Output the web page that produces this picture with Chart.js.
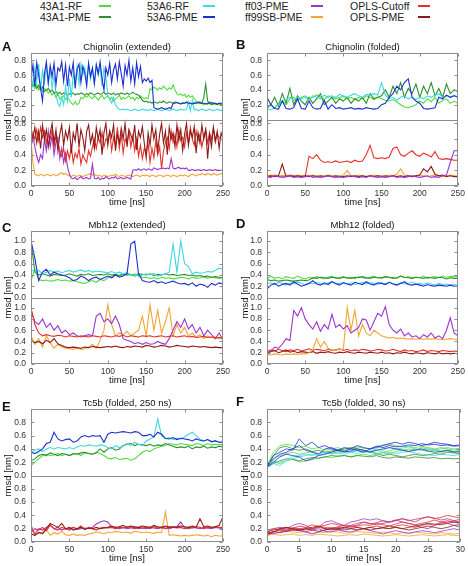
<!DOCTYPE html>
<html>
<head>
<meta charset="utf-8">
<script src="https://cdn.jsdelivr.net/npm/chart.js@4.4.1/dist/chart.umd.min.js"></script>
<style>
  html, body { margin: 0; padding: 0; background: #fff; }
  #fig { position: relative; width: 468px; height: 566px; overflow: hidden; font-family: "Liberation Sans", Arial, sans-serif; }
  #fig canvas { position: absolute; }
  .lg { position: absolute; font-size: 10.5px; line-height: 11px; color: #222; white-space: nowrap; }
  .sw { position: absolute; height: 2px; }
</style>
</head>
<body>
<div id="fig"></div>
<script>
// force fields (legend order) and their colours
const seriesNames = ['43A1-RF', '43A1-PME', '53A6-RF', '53A6-PME', 'ff03-PME', 'ff99SB-PME', 'OPLS-Cutoff', 'OPLS-PME'];
const seriesColors = ['#4fdc3f', '#2f8f2f', '#3fd8e0', '#1c2fd0', '#9a35d0', '#f2a533', '#e6302a', '#8e1a17'];

// x ticks
const ticks250 = [0, 50, 100, 150, 200, 250];
const ticks30 = [0, 5, 10, 15, 20, 25, 30];

// ---------- A : Chignolin (extended), 0-250 ns, 2.5 ns samples ----------
const A_53A6_PME = [.55,.74,.45,.77,.6,.42,.25,.62,.78,.5, .73,.58,.76,.47,.7,.66,.78,.52,.74,.45,
  .71,.6,.77,.42,.68,.75,.5,.72,.63,.45, .76,.58,.7,.48,.74,.62,.78,.55,.4,.7,
  .6,.76,.5,.67,.75,.55,.78,.62,.45,.73, .6,.8,.52,.7,.48,.77,.58,.72,.5,.55,
  .52,.56,.5,.53,.16,.15,.14,.15,.16,.15, .14,.15,.16,.15,.22,.22,.23,.22,.21,.22,
  .22,.23,.22,.22,.21,.22,.22,.23,.22,.22, .22,.21,.22,.22,.23,.22,.22,.21,.22,.22, .22];
const A_53A6_RF = [.62,.45,.7,.52,.75,.4,.66,.5,.72,.48, .68,.42,.6,.35,.22,.18,.3,.2,.45,.25,
  .55,.3,.62,.5,.72,.48,.75,.6,.7,.52, .76,.55,.68,.5,.74,.6,.72,.45,.7,.58,
  .32,.28,.22,.3,.2,.16,.14,.13,.14,.13, .14,.13,.12,.13,.14,.13,.12,.13,.14,.13,
  .13,.12,.14,.13,.12,.13,.14,.13,.12,.13, .14,.13,.12,.13,.14,.13,.12,.13,.14,.13,
  .13,.14,.24,.12,.26,.13,.14,.12,.13,.14, .13,.12,.13,.14,.13,.12,.13,.14,.13,.12, .13];
const A_43A1_RF = [.45,.5,.42,.48,.4,.44,.38,.42,.4,.36, .38,.33,.36,.3,.34,.28,.3,.32,.27,.3,
  .26,.22,.2,.24,.2,.22,.3,.28,.32,.3, .33,.3,.28,.32,.3,.26,.3,.33,.28,.3,
  .32,.27,.3,.25,.28,.3,.33,.27,.3,.28, .3,.32,.28,.3,.26,.3,.28,.32,.3,.28,
  .3,.28,.42,.4,.44,.42,.4,.43,.41,.45, .42,.4,.43,.41,.47,.4,.35,.33,.35,.32,
  .34,.3,.33,.3,.32,.28,.25,.22,.24,.22, .2,.22,.2,.24,.21,.2,.22,.2,.21,.2, .2];
const A_43A1_PME = [.5,.45,.48,.42,.46,.4,.44,.38,.4,.42, .38,.4,.36,.38,.35,.37,.34,.36,.35,.33,
  .35,.34,.36,.33,.35,.34,.36,.35,.33,.35, .34,.36,.35,.33,.35,.36,.34,.35,.37,.34,
  .36,.35,.34,.36,.33,.35,.34,.36,.35,.34, .36,.34,.35,.37,.35,.34,.33,.3,.26,.24,
  .25,.23,.24,.22,.24,.23,.22,.24,.23,.25, .23,.22,.24,.23,.22,.24,.23,.22,.21,.23,
  .22,.24,.23,.22,.21,.23,.22,.24,.23,.22, .3,.48,.25,.22,.2,.22,.21,.2,.22,.21, .2];
const A_OPLS_PME = [.5,.62,.75,.55,.7,.48,.78,.6,.72,.5, .68,.8,.55,.72,.45,.66,.78,.52,.7,.6,
  .75,.42,.68,.58,.8,.5,.72,.62,.45,.7, .78,.55,.66,.48,.75,.6,.72,.4,.68,.8,
  .52,.7,.62,.78,.45,.66,.55,.74,.6,.8, .5,.72,.65,.58,.78,.46,.7,.62,.76,.55,
  .36,.68,.52,.78,.6,.72,.45,.66,.8,.55, .7,.4,.75,.6,.68,.5,.78,.58,.72,.45,
  .66,.8,.52,.7,.62,.76,.42,.68,.55,.78, .6,.72,.35,.66,.5,.75,.58,.7,.48,.68, .6];
const A_OPLS_Cutoff = [.55,.68,.6,.72,.58,.75,.62,.7,.55,.66, .6,.72,.5,.64,.56,.45,.38,.48,.32,.45,
  .35,.5,.3,.42,.36,.48,.28,.4,.34,.3, .45,.38,.5,.6,.48,.62,.55,.68,.5,.6,
  .58,.7,.45,.62,.52,.75,.48,.66,.42,.6, .55,.7,.5,.64,.45,.6,.38,.52,.35,.48,
  .42,.55,.3,.48,.36,.58,.4,.5,.22,.45, .55,.62,.48,.7,.56,.65,.5,.72,.58,.62,
  .5,.68,.55,.75,.6,.52,.7,.58,.66,.5, .62,.72,.55,.68,.6,.74,.56,.66,.62,.6, .58];
const A_ff03_PME = [.55,.65,.5,.38,.3,.4,.35,.6,.45,.7, .5,.65,.4,.55,.62,.35,.48,.3,.42,.25,
  .15,.1,.09,.11,.08,.1,.12,.09,.1,.11, .09,.1,.28,.1,.09,.11,.08,.1,.09,.12,
  .1,.09,.11,.1,.12,.09,.1,.11,.09,.1, .11,.1,.09,.2,.21,.2,.22,.2,.21,.22,
  .2,.22,.21,.2,.23,.22,.21,.22,.22,.23, .22,.23,.22,.35,.23,.22,.23,.24,.22,.23,
  .22,.23,.2,.2,.21,.2,.2,.21,.2,.2, .21,.2,.2,.21,.2,.2,.21,.2,.2,.2, .2];
const A_ff99SB_PME = [.6,.3,.15,.14,.13,.15,.14,.13,.15,.14, .13,.14,.15,.13,.14,.16,.17,.15,.16,.14,
  .13,.12,.14,.13,.12,.14,.13,.12,.13,.14, .15,.16,.14,.15,.13,.14,.13,.12,.14,.13,
  .12,.13,.14,.13,.15,.13,.12,.14,.13,.12, .13,.14,.13,.12,.13,.14,.13,.12,.14,.13,
  .14,.13,.12,.14,.13,.12,.13,.14,.13,.12, .13,.14,.13,.12,.14,.13,.12,.13,.14,.13,
  .14,.13,.12,.14,.15,.14,.13,.15,.14,.16, .15,.14,.16,.15,.14,.16,.15,.14,.15,.16, .15];

// ---------- B : Chignolin (folded), 5 ns samples ----------
const B_53A6_PME = [.3,.2,.15,.14,.25,.15,.14,.16,.28,.15, .14,.25,.16,.14,.15,.26,.14,.2,.15,.16,
  .14,.15,.16,.14,.15,.14,.16,.15,.14,.15, .2,.22,.3,.35,.45,.4,.5,.55,.3,.25,
  .22,.15,.14,.15,.16,.3,.28,.33,.3,.32, .3];
const B_53A6_RF = [.15,.13,.16,.2,.25,.27,.3,.26,.3,.28, .3,.27,.32,.3,.28,.33,.3,.32,.3,.34,
  .32,.3,.33,.35,.32,.3,.34,.33,.35,.33, .5,.33,.28,.3,.26,.3,.32,.28,.3,.27,
  .3,.28,.32,.3,.33,.35,.3,.32,.3,.33, .3];
const B_43A1_RF = [.18,.2,.15,.22,.25,.2,.28,.3,.26,.3, .32,.28,.3,.33,.3,.27,.32,.3,.28,.3,
  .31,.28,.3,.27,.3,.28,.32,.3,.27,.3, .28,.26,.25,.27,.24,.2,.17,.16,.18,.2,
  .25,.22,.28,.24,.3,.22,.26,.28,.22,.25, .22];
const B_43A1_PME = [.15,.2,.3,.18,.35,.22,.42,.2,.32,.25, .2,.3,.22,.28,.35,.2,.25,.3,.22,.28,
  .25,.3,.22,.28,.25,.3,.22,.35,.28,.3, .32,.4,.3,.45,.35,.5,.3,.42,.35,.48,
  .3,.45,.35,.5,.32,.42,.3,.48,.35,.4, .38];
const B_OPLS_Cutoff = [.13,.12,.14,.12,.13,.12,.14,.13,.12,.13, .12,.38,.35,.4,.33,.3,.31,.3,.32,.3,
  .31,.32,.3,.33,.31,.32,.4,.52,.36,.35, .36,.35,.37,.48,.5,.4,.38,.42,.45,.4,
  .38,.42,.4,.37,.44,.35,.34,.35,.34,.33, .33];
const B_OPLS_PME = [.12,.13,.12,.13,.28,.12,.13,.12,.13,.12, .13,.12,.13,.12,.13,.12,.13,.12,.13,.12,
  .12,.13,.12,.13,.12,.13,.12,.13,.12,.13, .12,.13,.12,.13,.12,.13,.12,.13,.12,.13,
  .14,.22,.18,.25,.15,.13,.14,.12,.13,.12, .12];
const B_ff03_PME = [.12,.11,.13,.12,.11,.12,.13,.11,.12,.11, .12,.13,.11,.12,.11,.12,.13,.12,.11,.12,
  .11,.12,.13,.12,.11,.12,.11,.13,.12,.11, .12,.11,.12,.13,.11,.12,.11,.12,.13,.12,
  .11,.12,.13,.11,.12,.11,.13,.14,.3,.45, .45];
const B_ff99SB_PME = [.13,.14,.13,.12,.13,.14,.13,.12,.14,.13, .12,.13,.14,.13,.12,.13,.14,.13,.12,.13,
  .14,.2,.13,.12,.14,.13,.12,.13,.14,.13, .13,.12,.14,.13,.15,.22,.14,.13,.12,.13,
  .14,.13,.12,.13,.14,.13,.12,.13,.14,.13, .13];

// ---------- C : Mbh12 (extended) ----------
const C_53A6_PME = [1.0,.7,.3,.45,.5,.4,.45,.42,.4,.38, .35,.3,.32,.38,.35,.3,.34,.36,.32,.35,
  .38,.35,.4,.36,.38,.42,.95,1.0,.42,.3, .28,.27,.3,.26,.28,.25,.27,.29,.26,.24,
  .25,.22,.26,.2,.24,.22,.18,.25,.22,.26, .24];
const C_53A6_RF = [.5,.45,.48,.42,.45,.48,.45,.47,.44,.46, .48,.45,.47,.49,.46,.48,.45,.47,.46,.45,
  .44,.46,.43,.45,.42,.44,.4,.42,.38,.4, .42,.4,.43,.38,.4,.42,.45,.95,.45,1.0,
  .6,.55,.42,.45,.43,.44,.46,.45,.48,.52, .5];
const C_43A1_RF = [.3,.5,.32,.3,.31,.29,.3,.32,.3,.31, .29,.3,.28,.26,.25,.28,.3,.27,.32,.3,
  .35,.38,.4,.38,.4,.42,.4,.38,.4,.35, .36,.34,.35,.33,.36,.34,.35,.33,.34,.36,
  .35,.33,.36,.34,.35,.37,.34,.36,.35,.34, .35];
const C_43A1_PME = [1.0,.45,.4,.42,.4,.38,.41,.4,.39,.4, .42,.4,.38,.41,.4,.42,.39,.4,.41,.4,
  .42,.4,.41,.39,.42,.4,.41,.4,.42,.41, .4,.42,.39,.41,.4,.42,.4,.41,.39,.4,
  .41,.39,.4,.38,.39,.37,.38,.36,.37,.36, .35];
const C_OPLS_Cutoff = [1.0,.7,.55,.5,.52,.5,.49,.51,.5,.48, .5,.49,.48,.5,.49,.48,.5,.49,.48,.5,
  .49,.48,.5,.49,.51,.48,.5,.49,.48,.5, .49,.5,.48,.49,.5,.48,.49,.5,.48,.49,
  .5,.48,.49,.47,.48,.49,.47,.48,.46,.47, .47];
const C_OPLS_PME = [.42,.38,.4,.36,.42,.38,.45,.36,.33,.3, .29,.3,.29,.28,.3,.29,.31,.3,.29,.3,
  .31,.3,.32,.3,.29,.31,.3,.32,.31,.3, .33,.32,.3,.31,.33,.32,.3,.31,.33,.32,
  .31,.3,.32,.31,.3,.31,.3,.29,.3,.29, .29];
const C_ff03_PME = [.95,.75,.7,.8,.65,.72,.6,.68,.55,.6, .52,.55,.5,.48,.5,.52,.5,.85,.9,.75,
  .8,.72,.85,.7,.45,.42,.4,.36,.38,.35, .38,.35,.36,.4,.37,.35,.45,.6,.75,.65,
  .8,.62,.7,.55,.65,.5,.6,.52,.45,.55, .42];
const C_ff99SB_PME = [.5,.35,.45,.3,.5,.38,.28,.35,.3,.28, .27,.26,.28,.26,.27,.3,.35,.28,.42,.6,
  1.05,.7,.5,.55,.52,.58,.5,.55,.6,.85, .5,1.05,.6,.95,.55,.75,1.0,.5,.7,.55,
  .65,.5,.55,.48,.52,.45,.5,.47,.48,.45, .45];

// ---------- D : Mbh12 (folded) ----------
const D_43A1_PME = [.32,.3,.31,.29,.3,.31,.3,.29,.3,.31, .3,.31,.35,.34,.36,.35,.34,.36,.35,.34,
  .36,.35,.34,.36,.35,.37,.35,.34,.36,.35, .35,.37,.36,.34,.35,.38,.36,.35,.34,.36,
  .35,.34,.36,.35,.34,.36,.35,.33,.35,.34, .34];
const D_43A1_RF = [.33,.38,.34,.36,.33,.37,.35,.34,.38,.35, .33,.36,.34,.37,.35,.33,.36,.38,.34,.35,
  .37,.34,.36,.33,.37,.35,.34,.36,.38,.35, .34,.37,.35,.36,.34,.38,.35,.37,.34,.36,
  .35,.38,.34,.36,.37,.35,.38,.36,.37,.38, .37];
const D_53A6_RF = [.24,.26,.23,.27,.25,.22,.26,.24,.28,.25, .23,.26,.24,.27,.25,.23,.26,.28,.24,.25,
  .27,.24,.26,.23,.25,.27,.24,.26,.25,.23, .26,.24,.27,.25,.23,.26,.24,.25,.27,.24,
  .25,.23,.26,.24,.22,.25,.23,.24,.22,.23, .22];
const D_53A6_PME = [.15,.22,.25,.2,.23,.25,.22,.28,.24,.2, .22,.25,.3,.24,.22,.26,.23,.28,.25,.22,
  .26,.24,.22,.27,.25,.23,.28,.24,.22,.26, .25,.23,.27,.24,.22,.25,.28,.23,.22,.24,
  .22,.2,.23,.21,.2,.22,.21,.2,.22,.2, .2];
const D_ff03_PME = [.2,.22,.3,.28,.35,.45,.42,.95,.85,1.0, .8,.7,.62,.75,.58,.7,.62,.88,.65,.7,
  .62,.68,.55,.6,.65,.8,.78,.6,.75,.9, .85,1.02,.7,.6,.55,.62,.5,.55,.48,.5,
  .45,.52,.48,.55,.46,.5,.45,.6,.82,.55, .5];
const D_ff99SB_PME = [.17,.16,.18,.17,.16,.18,.17,.18,.17,.18, .18,.2,.25,.45,.3,.4,.28,.25,.24,.26,
  .26,1.0,.6,.95,.5,.7,.55,.5,.6,.55, .5,.48,.46,.47,.45,.46,.45,.44,.45,.44,
  .45,.44,.45,.44,.45,.44,.43,.44,.45,.44, .44];
const D_OPLS_Cutoff = [.22,.25,.23,.26,.24,.22,.25,.24,.26,.23, .25,.27,.24,.26,.25,.23,.26,.24,.25,.27,
  .24,.26,.23,.25,.24,.26,.25,.23,.24,.26, .25,.23,.24,.26,.24,.22,.25,.23,.24,.22,
  .23,.25,.22,.24,.23,.22,.24,.23,.22,.23, .22];
const D_OPLS_PME = [.2,.22,.24,.2,.22,.25,.21,.23,.2,.22, .21,.2,.22,.19,.21,.2,.22,.2,.19,.21,
  .2,.22,.2,.19,.21,.2,.19,.21,.2,.19, .21,.19,.2,.18,.2,.19,.21,.19,.18,.2,
  .19,.18,.2,.19,.18,.2,.18,.19,.18,.19, .18];

// ---------- E : Tc5b (folded, 250 ns) ----------
const E_53A6_PME = [.35,.33,.36,.4,.48,.5,.65,.55,.52,.54, .55,.5,.52,.58,.6,.58,.6,.59,.6,.5,
  .62,.65,.64,.65,.66,.65,.64,.66,.65,.6, .6,.62,.58,.65,.62,.56,.55,.57,.54,.56,
  .55,.54,.52,.55,.53,.52,.54,.51,.52,.5, .5];
const E_53A6_RF = [.35,.38,.4,.36,.4,.42,.4,.42,.41,.4, .42,.4,.43,.45,.44,.46,.45,.44,.46,.45,
  .42,.4,.45,.42,.44,.48,.45,.5,.47,.45, .52,.55,.58,.85,.6,.55,.57,.54,.56,.55,
  .58,.62,.65,.6,.55,.52,.54,.5,.52,.5, .51];
const E_43A1_PME = [.22,.25,.3,.32,.3,.34,.32,.3,.33,.32, .3,.33,.32,.34,.35,.33,.32,.34,.4,.35,
  .4,.42,.38,.4,.45,.47,.48,.45,.47,.46, .45,.47,.44,.46,.45,.48,.46,.44,.42,.43,
  .42,.44,.4,.43,.42,.44,.41,.43,.42,.44, .43];
const E_43A1_RF = [.15,.2,.25,.3,.32,.3,.31,.33,.3,.32, .3,.32,.33,.3,.34,.33,.32,.35,.33,.3,
  .26,.25,.27,.24,.25,.26,.23,.25,.3,.35, .38,.36,.4,.42,.44,.45,.48,.47,.46,.48,
  .47,.46,.45,.48,.47,.45,.48,.46,.47,.46, .47];
const E_OPLS_PME = [.12,.1,.14,.13,.2,.28,.25,.22,.28,.2, .22,.18,.2,.22,.19,.21,.2,.22,.2,.21,
  .22,.24,.22,.23,.25,.22,.24,.23,.22,.24, .23,.22,.25,.23,.22,.24,.22,.23,.22,.24,
  .23,.22,.24,.22,.35,.23,.24,.22,.23,.25, .38];
const E_OPLS_Cutoff = [.15,.2,.18,.22,.17,.25,.2,.18,.22,.2, .18,.22,.2,.24,.19,.22,.2,.18,.21,.22,
  .21,.22,.2,.22,.21,.23,.22,.2,.22,.21, .22,.2,.23,.21,.22,.2,.23,.22,.21,.22,
  .2,.22,.21,.23,.22,.2,.22,.21,.23,.22, .22];
const E_ff03_PME = [.25,.12,.2,.18,.22,.26,.2,.22,.18,.2, .2,.22,.19,.2,.21,.2,.22,.27,.3,.32,
  .3,.22,.21,.2,.22,.2,.21,.22,.2,.21, .2,.22,.21,.2,.22,.21,.2,.22,.23,.3,
  .21,.2,.22,.21,.2,.22,.21,.2,.22,.21, .2];
const E_ff99SB_PME = [.2,.1,.15,.12,.18,.1,.14,.12,.16,.11, .1,.12,.1,.11,.1,.12,.13,.15,.14,.12,
  .15,.14,.16,.15,.14,.15,.13,.16,.15,.14, .15,.14,.13,.15,.14,.45,.1,.11,.1,.09,
  .1,.09,.1,.11,.1,.09,.1,.08,.1,.09, .09];

// ---------- F : Tc5b (folded, 30 ns), several runs per force field, 1 ns samples ----------
const F_53A6_PME = [
  [.12,.3,.35,.4,.38,.55,.45,.5,.42,.45,.4,.38,.42,.4,.45,.42,.4,.44,.42,.45,.43,.44,.46,.45,.48,.46,.47,.45,.46,.44,.45],
  [.15,.25,.32,.35,.4,.45,.38,.35,.32,.4,.42,.38,.36,.4,.38,.35,.4,.42,.45,.48,.5,.47,.5,.48,.45,.47,.5,.48,.47,.45,.46],
  [.13,.2,.28,.32,.3,.28,.22,.25,.3,.32,.35,.38,.35,.37,.4,.38,.35,.38,.4,.42,.4,.38,.36,.38,.4,.37,.35,.36,.38,.35,.36]];
const F_53A6_RF = [
  [.14,.22,.2,.25,.28,.3,.32,.3,.33,.35,.32,.34,.36,.35,.38,.36,.37,.4,.38,.42,.4,.41,.43,.4,.38,.4,.39,.37,.38,.36,.35],
  [.12,.18,.15,.22,.25,.28,.3,.32,.3,.33,.35,.34,.32,.35,.33,.36,.35,.34,.32,.35,.33,.35,.36,.34,.32,.31,.3,.32,.31,.3,.32]];
const F_43A1_RF = [
  [.15,.35,.45,.47,.45,.42,.44,.4,.42,.38,.4,.42,.38,.4,.43,.41,.4,.44,.46,.47,.45,.43,.44,.42,.44,.42,.4,.42,.4,.38,.4],
  [.13,.25,.3,.33,.35,.32,.34,.36,.33,.35,.33,.36,.38,.35,.37,.35,.36,.38,.35,.37,.4,.38,.37,.4,.38,.36,.38,.35,.37,.36,.38],
  [.12,.2,.18,.22,.25,.2,.22,.24,.26,.28,.27,.29,.3,.28,.3,.32,.3,.32,.35,.33,.36,.38,.4,.38,.42,.4,.38,.4,.42,.4,.41]];
const F_43A1_PME = [
  [.12,.18,.22,.25,.24,.22,.25,.27,.26,.28,.3,.29,.3,.28,.3,.29,.28,.3,.27,.26,.28,.27,.26,.28,.27,.26,.27,.25,.26,.25,.26],
  [.14,.3,.42,.44,.4,.38,.4,.36,.38,.35,.37,.38,.4,.42,.4,.38,.35,.33,.3,.32,.3,.28,.3,.32,.3,.31,.33,.32,.35,.34,.33]];
const F_OPLS_Cutoff = [
  [.15,.2,.18,.22,.2,.24,.22,.26,.23,.25,.28,.26,.24,.25,.28,.3,.27,.29,.32,.3,.33,.35,.32,.34,.36,.38,.35,.37,.4,.38,.36],
  [.12,.15,.18,.16,.2,.19,.22,.2,.24,.22,.2,.23,.25,.22,.24,.26,.25,.28,.26,.24,.27,.3,.28,.26,.28,.3,.33,.3,.32,.3,.28],
  [.1,.14,.2,.18,.22,.2,.18,.2,.22,.2,.22,.2,.22,.24,.22,.2,.22,.24,.22,.2,.24,.26,.24,.22,.25,.27,.25,.28,.3,.32,.3]];
const F_OPLS_PME = [
  [.15,.18,.2,.22,.2,.18,.2,.22,.24,.2,.18,.2,.22,.2,.18,.2,.22,.2,.21,.2,.22,.2,.18,.2,.22,.24,.22,.2,.22,.25,.26],
  [.12,.16,.14,.16,.18,.17,.2,.18,.16,.18,.2,.19,.18,.2,.22,.2,.18,.2,.22,.24,.22,.2,.22,.24,.26,.28,.27,.26,.28,.3,.29]];
const F_ff03_PME = [
  [.18,.2,.22,.2,.25,.28,.25,.2,.22,.3,.32,.28,.25,.3,.32,.35,.33,.35,.32,.3,.33,.3,.28,.25,.22,.2,.25,.3,.28,.25,.22],
  [.15,.12,.15,.18,.2,.17,.15,.12,.15,.18,.2,.22,.2,.24,.25,.3,.28,.26,.28,.3,.32,.35,.33,.3,.35,.38,.36,.33,.35,.32,.34],
  [.12,.15,.2,.22,.18,.2,.15,.18,.2,.16,.15,.18,.16,.15,.18,.2,.17,.15,.12,.15,.17,.15,.13,.15,.17,.16,.14,.16,.18,.2,.18]];
const F_ff99SB_PME = [
  [.1,.12,.1,.11,.12,.1,.11,.1,.12,.11,.1,.09,.1,.11,.1,.12,.11,.1,.09,.1,.11,.1,.09,.1,.11,.1,.09,.1,.11,.1,.1],
  [.13,.15,.18,.16,.15,.14,.16,.13,.15,.14,.16,.15,.13,.14,.16,.15,.14,.13,.15,.14,.12,.14,.13,.15,.14,.13,.12,.14,.13,.12,.13]];

const FONT = '"Liberation Sans", Arial, sans-serif';
const colorOf = name => seriesColors[seriesNames.indexOf(name)];

function toPoints(vals, tMax) {
  return vals.map((v, i) => ({ x: i * tMax / (vals.length - 1), y: v }));
}

// legend
const fig = document.getElementById('fig');
const legendCols = [[40, 99], [147, 203], [245, 311], [350, 418]];
seriesNames.forEach((name, i) => {
  const col = legendCols[Math.floor(i / 2)], row = i % 2;
  const t = document.createElement('div');
  t.className = 'lg';
  t.style.left = col[0] + 'px';
  t.style.top = (row * 11 + 0.5) + 'px';
  t.textContent = name;
  fig.appendChild(t);
  const s = document.createElement('div');
  s.className = 'sw';
  s.style.left = col[1] + 'px';
  s.style.top = (row * 11 + 5) + 'px';
  s.style.width = '12px';
  s.style.background = seriesColors[i];
  fig.appendChild(s);
});

const panelDecor = {
  id: 'panelDecor',
  afterDraw(chart, args, o) {
    const c = chart.ctx, a = chart.chartArea;
    const yT = chart.scales.yTop, yB = chart.scales.yBot, x = chart.scales.x;
    c.save();
    c.strokeStyle = '#8c8c8c';
    c.lineWidth = 1;
    const L = Math.round(a.left) + 0.5, R = Math.round(a.right) - 0.5;
    const T = Math.round(a.top) + 0.5, B = Math.round(a.bottom) - 0.5;
    c.strokeRect(L, T, R - L, B - T);
    c.beginPath();
    const mid = Math.round(yT.bottom) + 0.5;
    c.moveTo(L, mid); c.lineTo(R, mid);
    for (const s of [yT, yB]) {
      for (const t of s.ticks) {
        const py = Math.round(s.getPixelForValue(t.value)) + 0.5;
        c.moveTo(L, py); c.lineTo(L + 3, py);
        c.moveTo(R - 3, py); c.lineTo(R, py);
      }
    }
    for (const t of x.ticks) {
      const px = Math.round(x.getPixelForValue(t.value)) + 0.5;
      c.moveTo(px, T); c.lineTo(px, T + 3);
      c.moveTo(px, B); c.lineTo(px, B - 3);
    }
    c.stroke();

    c.fillStyle = '#111';
    c.textAlign = 'center';
    c.textBaseline = 'alphabetic';
    c.font = '9.5px ' + FONT;
    const cx = (a.left + a.right) / 2;
    c.fillText(o.title, cx, a.top - 3);
    c.fillText('time [ns]', cx, a.bottom + 19);
    c.save();
    c.translate(o.labelX, (a.top + a.bottom) / 2);
    c.rotate(-Math.PI / 2);
    c.textBaseline = 'middle';
    c.fillText('rmsd [nm]', 0, 0);
    c.restore();
    c.textAlign = 'left';
    c.font = 'bold 13px ' + FONT;
    c.fillText(o.letter, 2, a.top + o.letterDy);
    c.restore();
  }
};

function yScale(max, tickMax, p) {
  return {
    type: 'linear', position: 'left', stack: 'rmsd', stackWeight: 1,
    min: 0, max: max,
    grid: { display: false, drawTicks: false },
    border: { display: false },
    afterBuildTicks: s => {
      const list = [];
      for (let k = 0; k <= Math.round(tickMax * 5); k++) list.push({ value: k / 5 });
      s.ticks = list;
    },
    ticks: {
      autoSkip: false, padding: 5, color: '#333',
      font: { family: FONT, size: 8.5 },
      callback: v => v.toFixed(1)
    },
    afterFit: s => { s.width = p.yW; }
  };
}

function makePanel(p) {
  const cv = document.createElement('canvas');
  cv.width = 234; cv.height = 178;
  cv.style.left = p.left + 'px';
  cv.style.top = p.top + 'px';
  fig.appendChild(cv);

  const ds = [];
  const add = (list, axis) => list.forEach(([name, vals]) => {
    const runs = Array.isArray(vals[0]) ? vals : [vals];
    runs.forEach(r => ds.push({
      label: name, data: toPoints(r, p.tMax), yAxisID: axis,
      borderColor: colorOf(name), borderWidth: p.lw, pointRadius: 0, tension: 0, fill: false
    }));
  });
  add(p.upper, 'yTop');
  add(p.lower, 'yBot');

  new Chart(cv, {
    type: 'line',
    data: { datasets: ds },
    options: {
      responsive: false, animation: false, devicePixelRatio: 1,
      layout: { padding: { top: 15, right: p.rPad, left: 0, bottom: 0 } },
      plugins: {
        legend: { display: false }, tooltip: { enabled: false },
        panelDecor: { title: p.title, letter: p.letter, labelX: p.labelX, letterDy: p.letterDy }
      },
      scales: {
        x: {
          type: 'linear', min: 0, max: p.tMax,
          grid: { display: false, drawTicks: false },
          border: { display: false },
          afterBuildTicks: s => { s.ticks = p.xTicks.map(v => ({ value: v })); },
          ticks: { padding: 3, color: '#333', maxRotation: 0, autoSkip: false, font: { family: FONT, size: 8.5 } },
          afterFit: s => { s.height = 30; }
        },
        yBot: yScale(p.botMax, p.botTick, p),
        yTop: yScale(p.topMax, p.topTick, p)
      }
    },
    plugins: [panelDecor]
  });
}

const panels = [
  { letter: 'A', title: 'Chignolin (extended)', left: 0, top: 38, yW: 31, rPad: 11, labelX: 8, letterDy: -2,
    tMax: 250, xTicks: ticks250, topMax: 0.9, topTick: 0.8, botMax: 0.85, botTick: 0.8, lw: 1.1,
    upper: [['53A6-PME', A_53A6_PME], ['53A6-RF', A_53A6_RF], ['43A1-PME', A_43A1_PME], ['43A1-RF', A_43A1_RF]],
    lower: [['OPLS-PME', A_OPLS_PME], ['OPLS-Cutoff', A_OPLS_Cutoff], ['ff03-PME', A_ff03_PME], ['ff99SB-PME', A_ff99SB_PME]] },
  { letter: 'B', title: 'Chignolin (folded)', left: 234, top: 38, yW: 33, rPad: 7, labelX: 11, letterDy: -4,
    tMax: 250, xTicks: ticks250, topMax: 0.9, topTick: 0.8, botMax: 0.85, botTick: 0.8, lw: 1.1,
    upper: [['53A6-PME', B_53A6_PME], ['53A6-RF', B_53A6_RF], ['43A1-PME', B_43A1_PME], ['43A1-RF', B_43A1_RF]],
    lower: [['ff03-PME', B_ff03_PME], ['OPLS-PME', B_OPLS_PME], ['ff99SB-PME', B_ff99SB_PME], ['OPLS-Cutoff', B_OPLS_Cutoff]] },
  { letter: 'C', title: 'Mbh12 (extended)', left: 0, top: 216, yW: 31, rPad: 11, labelX: 8, letterDy: 1,
    tMax: 250, xTicks: ticks250, topMax: 1.18, topTick: 1.0, botMax: 1.18, botTick: 1.0, lw: 1.1,
    upper: [['53A6-PME', C_53A6_PME], ['53A6-RF', C_53A6_RF], ['43A1-PME', C_43A1_PME], ['43A1-RF', C_43A1_RF]],
    lower: [['OPLS-PME', C_OPLS_PME], ['OPLS-Cutoff', C_OPLS_Cutoff], ['ff03-PME', C_ff03_PME], ['ff99SB-PME', C_ff99SB_PME]] },
  { letter: 'D', title: 'Mbh12 (folded)', left: 234, top: 216, yW: 33, rPad: 7, labelX: 11, letterDy: -3,
    tMax: 250, xTicks: ticks250, topMax: 1.18, topTick: 1.0, botMax: 1.18, botTick: 1.0, lw: 1.1,
    upper: [['53A6-PME', D_53A6_PME], ['53A6-RF', D_53A6_RF], ['43A1-PME', D_43A1_PME], ['43A1-RF', D_43A1_RF]],
    lower: [['ff03-PME', D_ff03_PME], ['ff99SB-PME', D_ff99SB_PME], ['OPLS-PME', D_OPLS_PME], ['OPLS-Cutoff', D_OPLS_Cutoff]] },
  { letter: 'E', title: 'Tc5b (folded, 250 ns)', left: 0, top: 394, yW: 31, rPad: 11, labelX: 8, letterDy: 2,
    tMax: 250, xTicks: ticks250, topMax: 1.0, topTick: 0.8, botMax: 1.0, botTick: 0.8, lw: 1.1,
    upper: [['53A6-PME', E_53A6_PME], ['53A6-RF', E_53A6_RF], ['43A1-PME', E_43A1_PME], ['43A1-RF', E_43A1_RF]],
    lower: [['OPLS-PME', E_OPLS_PME], ['OPLS-Cutoff', E_OPLS_Cutoff], ['ff03-PME', E_ff03_PME], ['ff99SB-PME', E_ff99SB_PME]] },
  { letter: 'F', title: 'Tc5b (folded, 30 ns)', left: 234, top: 394, yW: 33, rPad: 7, labelX: 11, letterDy: -3,
    tMax: 30, xTicks: ticks30, topMax: 1.0, topTick: 0.8, botMax: 1.0, botTick: 0.8, lw: 0.8,
    upper: [['53A6-PME', F_53A6_PME], ['53A6-RF', F_53A6_RF], ['43A1-PME', F_43A1_PME], ['43A1-RF', F_43A1_RF]],
    lower: [['OPLS-PME', F_OPLS_PME], ['OPLS-Cutoff', F_OPLS_Cutoff], ['ff03-PME', F_ff03_PME], ['ff99SB-PME', F_ff99SB_PME]] }
];

panels.forEach(makePanel);
</script>
</body>
</html>
